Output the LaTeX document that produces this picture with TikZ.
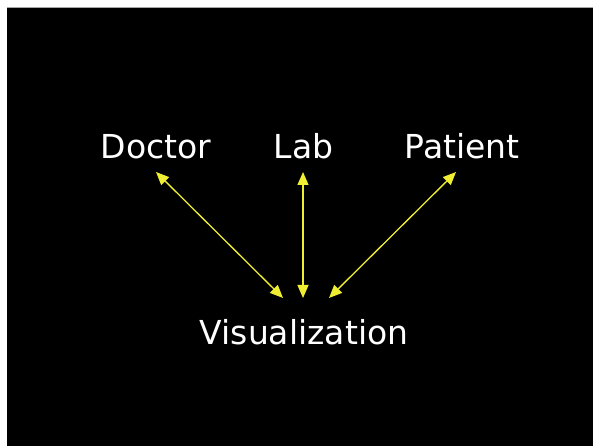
\documentclass[tikz,border=0pt]{standalone}
\usepackage{fontspec}
\setmainfont{DejaVu Sans}
\usetikzlibrary{arrows.meta}
\definecolor{arrowyellow}{RGB}{240,238,50}
\begin{document}
\begin{tikzpicture}[x=1pt,y=1pt,
  lbl/.style={text=white,font=\fontsize{33}{38}\selectfont,anchor=base,inner sep=0pt},
  conn/.style={draw=arrowyellow,line width=1.3pt,{Triangle[length=13pt,width=11pt]}-{Triangle[length=13pt,width=11pt]}}]
\useasboundingbox (0,0) rectangle (593,446);
\fill[white] (0,0) rectangle (593,446);
\fill[black] (7,0) rectangle (593,438);
\draw[gray!70,line width=1pt] (7,438.5) -- (593,438.5);
\node[lbl] (doctor) at (156,287) {Doctor};
\node[lbl] (lab) at (303.5,287) {Lab};
\node[lbl] (patient) at (462,287) {Patient};
\node[lbl] (vis) at (304,101) {Visualization};
\coordinate (dt) at (156,274);
\coordinate (db) at (283,148);
\coordinate (lt) at (303,274);
\coordinate (lb) at (303,148);
\coordinate (pt) at (456,274);
\coordinate (pb) at (329,148);
\draw[conn] (dt) -- (db);
\draw[conn] (lt) -- (lb);
\draw[conn] (pt) -- (pb);
\end{tikzpicture}
\end{document}
